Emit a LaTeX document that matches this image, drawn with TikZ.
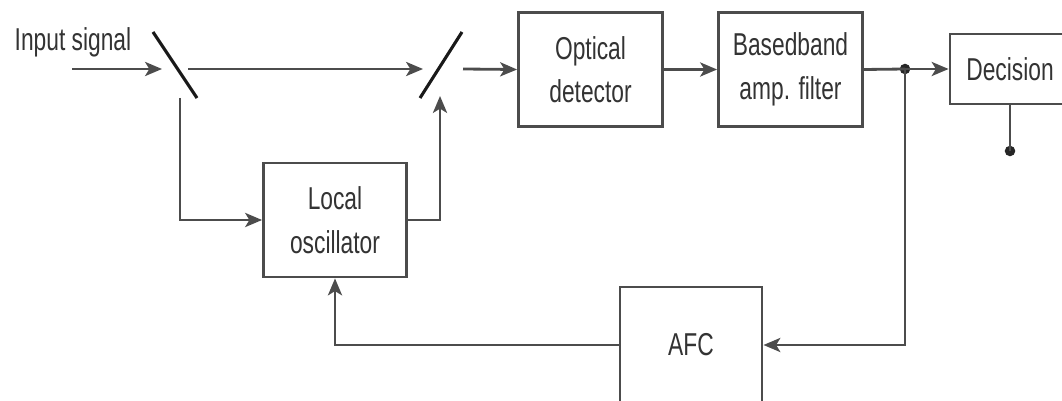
\documentclass[tikz,border=0pt]{standalone}
\usepackage{fontspec}
\setmainfont{Liberation Sans}[FakeStretch=0.72]
\usetikzlibrary{calc,positioning,arrows.meta}

\begin{document}
\begin{tikzpicture}[
    x=0.025cm, y=-0.025cm,
    block/.style={rectangle, draw=black!70, line width=2pt, minimum width=3.6cm, minimum height=2.85cm, align=center, font=\fontsize{22.5}{31}\selectfont, text=black!80, inner sep=0pt},
    arrow/.style={-{Stealth[length=12pt,width=10pt,inset=3pt]}, draw=black!70, line width=2pt},
    link/.style={draw=black!70, line width=2pt},
    mirror/.style={draw=black!90, line width=2.2pt},
    junction/.style={circle, fill=black!85, inner sep=0pt, minimum size=7.5pt},
    lbl/.style={font=\fontsize{22.5}{31}\selectfont, text=black!80, inner sep=0pt},
]
\useasboundingbox (0,0) rectangle (1062,400);

% === BLOCKS ===
\node[block] at (590.5,69.5) (optdet) {Optical\\detector};
\node[block] at (790.5,69.5) (bbfilter) {Basedband\\amp. filter};
\node[block, minimum width=3cm, minimum height=1.75cm] at (1010,69) (decision) {Decision};
\node[block, minimum width=3.575cm] at (335,220) (localosc) {Local\\oscillator};
\node[block, minimum width=3.55cm, minimum height=2.9cm] at (691,345) (afc) {AFC};

% === INPUT AND SPLITTERS ===
\node[lbl] at (73,42) (inlabel) {Input signal};
\coordinate (in) at (72,69);
\coordinate (m1a) at (153,32);
\coordinate (m1b) at (197,98);
\coordinate (m1in) at (162,69);
\coordinate (m1thru) at (188,69);
\coordinate (m1down) at (180,98);
\coordinate (m2a) at (462,32);
\coordinate (m2b) at (420,98);
\coordinate (m2in) at (423,69);
\coordinate (m2out) at (463,69);
\coordinate (m2up) at (440,96);
\draw[mirror] (m1a) -- (m1b);
\draw[mirror] (m2a) -- (m2b);

% === JUNCTIONS ===
\node[junction] at (905,69) (tap) {};
\node[junction] at (1010,151) (decout) {};

% === ARROWS ===
\draw[arrow] (in) -- (m1in);
\draw[arrow] (m1thru) -- (m2in);
\draw[arrow] (m2out) -- (optdet.west);
\draw[arrow] (optdet.east) -- (bbfilter.west);
\draw[link] (bbfilter.east) -- (tap.center);
\draw[arrow] (tap.center) -- (decision.west);
\draw[link] (decision.south) -- (decout.center);

% Local oscillator path
\draw[arrow] (m1down) |- (localosc.west);
\draw[arrow] (localosc.east) -| (m2up);

% AFC loop
\draw[arrow] (tap.center) |- (afc.east);
\draw[arrow] (afc.west) -| (localosc.south);

\end{tikzpicture}
\end{document}
